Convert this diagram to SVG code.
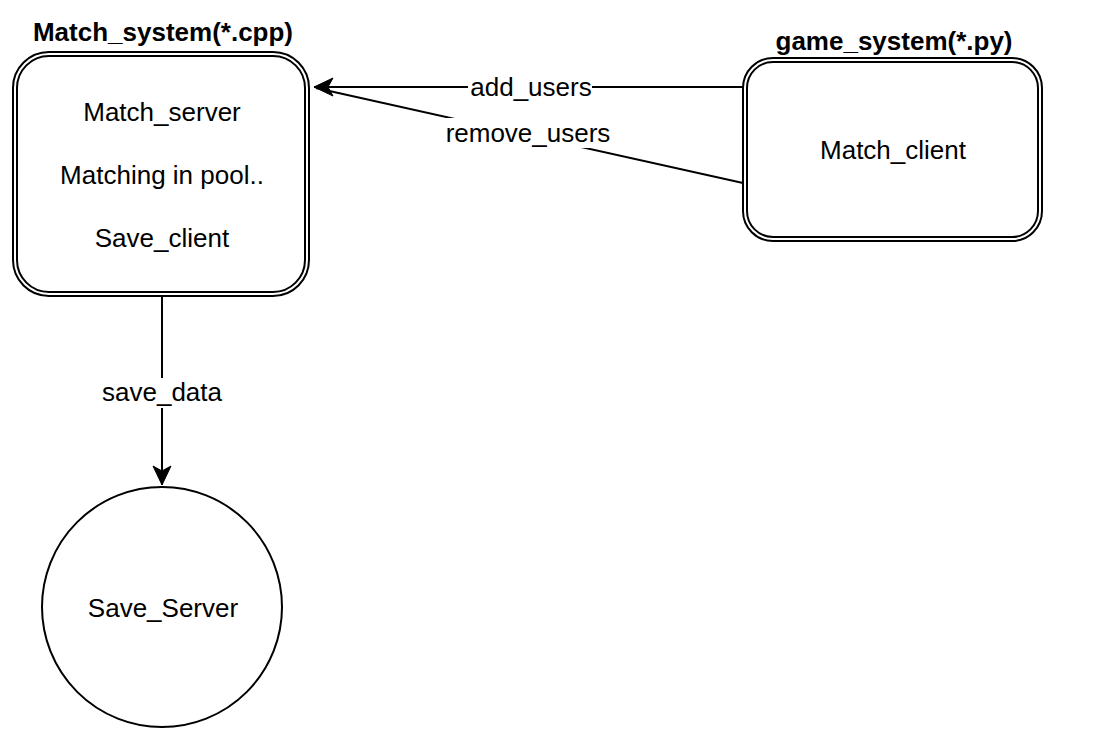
<svg xmlns="http://www.w3.org/2000/svg" width="1096" height="733" viewBox="0 0 1096 733">
<style>
.box{fill:none;stroke:#000;stroke-width:2}
.t{font-family:"Liberation Sans",Arial,sans-serif;font-size:26px;fill:#000;text-anchor:middle}
.b{font-weight:bold}
.ln{fill:none;stroke:#000;stroke-width:2}
.lbg{fill:#fff}
</style>
<defs>
<marker id="arr" markerUnits="userSpaceOnUse" markerWidth="24" markerHeight="24" refX="20" refY="10" orient="auto">
<path d="M20,10 L1,1 L6,10 L1,19 Z" fill="#000" stroke="#000" stroke-width="1"/>
</marker>
</defs>
<rect width="1096" height="733" fill="#fff"/>
<g id="connectors">
<path class="ln" d="M743,87 L314,87" marker-end="url(#arr)"/>
<path class="ln" d="M743,183 L316,88"/>
<path class="ln" d="M162,296 L162,485" marker-end="url(#arr)"/>
<rect class="lbg" x="468" y="74" width="124" height="28"/>
<text class="t" x="531" y="96">add_users</text>
<rect class="lbg" x="445" y="118" width="166" height="30"/>
<text class="t" x="528" y="142">remove_users</text>
<rect class="lbg" x="101" y="378" width="122" height="30"/>
<text class="t" x="162" y="401">save_data</text>
</g>
<g id="match_system">
<text class="t b" x="163" y="41">Match_system(*.cpp)</text>
<rect class="box" x="13" y="52" width="296" height="244" rx="36" ry="36"/>
<rect class="box" x="17" y="56" width="288" height="236" rx="32" ry="32"/>
<text class="t" x="162" y="121">Match_server</text>
<text class="t" x="162" y="184">Matching in pool..</text>
<text class="t" x="162" y="247">Save_client</text>
</g>
<g id="game_system">
<text class="t b" x="894" y="50">game_system(*.py)</text>
<rect class="box" x="743" y="58" width="299" height="183" rx="30" ry="30"/>
<rect class="box" x="747" y="62" width="291" height="175" rx="26" ry="26"/>
<text class="t" x="893" y="159">Match_client</text>
</g>
<g id="save_server">
<circle class="box" cx="162" cy="607" r="120"/>
<text class="t" x="163" y="617">Save_Server</text>
</g>
</svg>
